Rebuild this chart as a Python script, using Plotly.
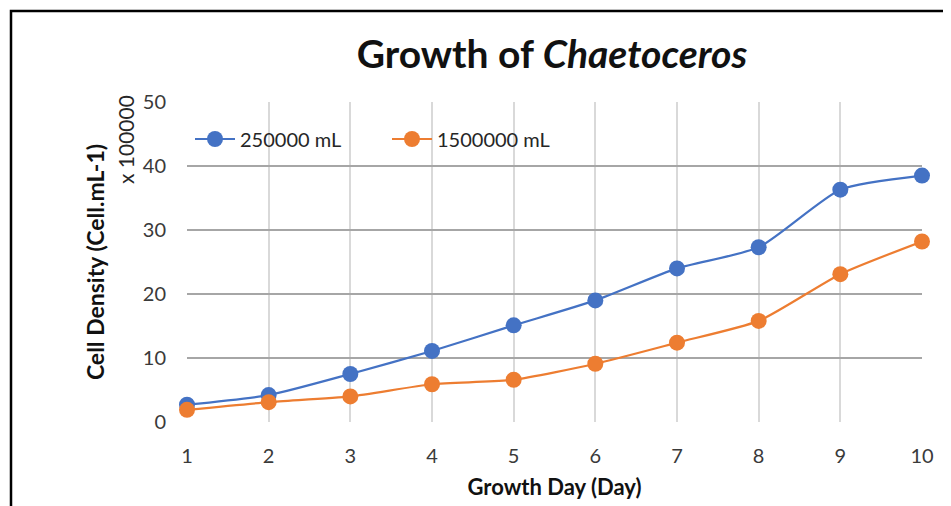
import plotly.graph_objects as go

days = [1, 2, 3, 4, 5, 6, 7, 8, 9, 10]
series_a_name = "250000 mL"
series_a = [2.7, 4.2, 7.5, 11.1, 15.1, 19.0, 24.0, 27.3, 36.3, 38.5]
series_b_name = "1500000 mL"
series_b = [1.9, 3.1, 4.0, 5.9, 6.6, 9.1, 12.4, 15.8, 23.1, 28.2]
y_ticks = [0, 10, 20, 30, 40, 50]

FONT = "Lato, 'Open Sans', sans-serif"
BLUE = "#4472C4"
ORANGE = "#ED7D31"

fig = go.Figure()
for name, vals, col in [(series_a_name, series_a, BLUE), (series_b_name, series_b, ORANGE)]:
    fig.add_trace(go.Scatter(
        x=days, y=vals, name=name, mode="lines+markers",
        line=dict(color=col, width=2.2, shape="spline", smoothing=0.6),
        marker=dict(color=col, size=16),
        cliponaxis=False,
    ))

OFF = 8  # page body margin
W, H = 951 - OFF, 506 - OFF
L, R, T, B = 187 - OFF, 29, 102 - OFF, 84
pw = W - L - R
ph = H - T - B


def px(xp):
    return (xp - OFF - L) / pw


def py(yp):
    return (H - B - (yp - OFF)) / ph


fig.update_layout(
    width=W, height=H,
    margin=dict(l=L, r=R, t=T, b=B),
    paper_bgcolor="white", plot_bgcolor="white",
    font=dict(family=FONT, size=19, color="#3a3a3a"),
    title=dict(text="<b>Growth of <i>Chaetoceros</i></b>", x=(552 - OFF) / W, xanchor="center",
               y=1 - (54 - OFF) / H, yanchor="middle", font=dict(size=39, color="#111")),
    legend=dict(orientation="h", x=px(190), xanchor="left",
                y=py(139), yanchor="middle",
                bgcolor="rgba(0,0,0,0)", font=dict(size=20, color="#262626"),
                itemwidth=40, entrywidth=142, entrywidthmode="pixels"),
    showlegend=True,
    xaxis=dict(range=[1, 10], tickvals=days, showgrid=True, gridcolor="#d9d9d9", gridwidth=2,
               zeroline=False, showline=False, ticks="", ticklabelstandoff=20,
               tickfont=dict(size=20, color="#3a3a3a"),
               title=dict(text="<b>Growth Day (Day)</b>", standoff=13,
                          font=dict(size=22, color="#111"))),
    yaxis=dict(range=[0, 50], tickvals=y_ticks, showgrid=True, gridcolor="#a6a6a6", gridwidth=2,
               zeroline=False, showline=False, ticks="", ticklabelstandoff=20,
               tickfont=dict(size=20, color="#3a3a3a"),
               title=dict(text="<b>Cell Density (Cell.mL-1)</b>", standoff=31,
                          font=dict(size=23, color="#111"))),
)

fig.add_annotation(text="x 100000", xref="paper", yref="paper",
                   x=px(125), y=py(140), showarrow=False,
                   textangle=-90, font=dict(size=21, color="#262626"),
                   xanchor="center", yanchor="middle")

fig.add_shape(type="rect", xref="paper", yref="paper",
              x0=px(11), x1=px(W + 40),
              y0=py(H + 40), y1=py(11),
              line=dict(color="black", width=2.5), fillcolor="rgba(0,0,0,0)", layer="below")

fig.write_html("out.html")
